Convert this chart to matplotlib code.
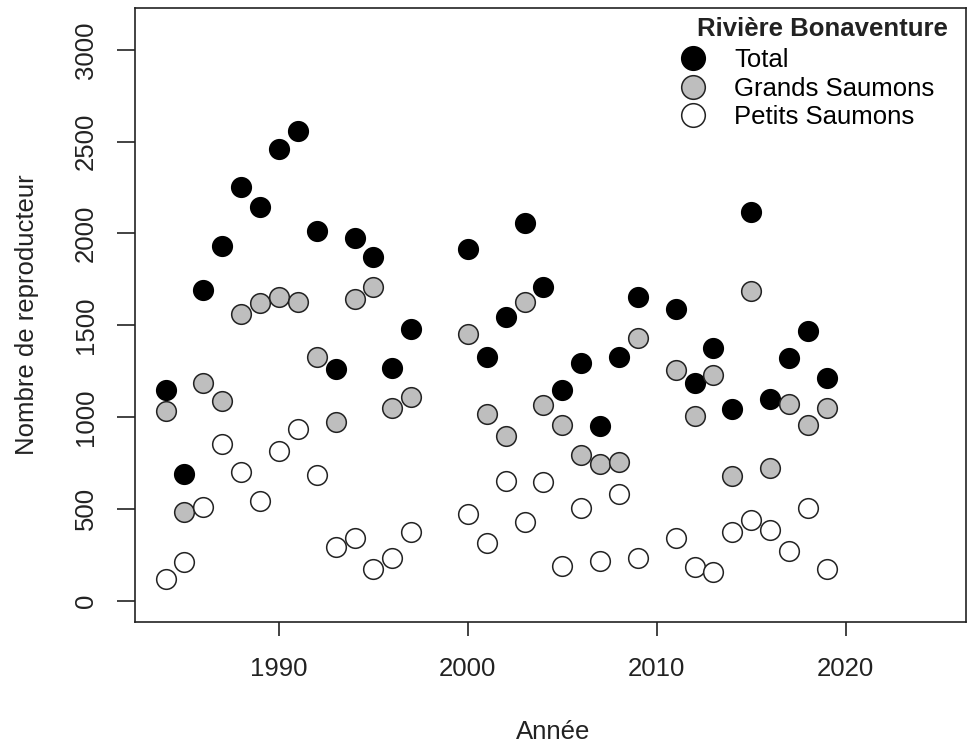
import matplotlib
matplotlib.use("Agg")
import matplotlib.pyplot as plt
from matplotlib.lines import Line2D

plt.rcParams['font.family'] = ['Liberation Sans', 'DejaVu Sans']

years = [1984, 1985, 1986, 1987, 1988, 1989, 1990, 1991, 1992, 1993, 1994,
         1995, 1996, 1997, 2000, 2001, 2002, 2003, 2004, 2005, 2006, 2007,
         2008, 2009, 2011, 2012, 2013, 2014, 2015, 2016, 2017, 2018, 2019]
total = [1148, 690, 1692, 1932, 2251, 2146, 2460, 2560, 2012, 1262, 1975,
         1870, 1269, 1478, 1916, 1326, 1547, 2055, 1710, 1148, 1293, 951,
         1329, 1656, 1589, 1183, 1378, 1043, 2115, 1096, 1322, 1467, 1215]
grands = [1033, 481, 1187, 1088, 1560, 1621, 1656, 1629, 1329, 972, 1643,
          1707, 1051, 1111, 1451, 1015, 899, 1629, 1066, 957, 794, 743,
          754, 1433, 1257, 1007, 1230, 680, 1685, 720, 1071, 957, 1049]
petits = [118, 209, 512, 852, 699, 543, 815, 935, 685, 294, 340,
          171, 231, 376, 471, 313, 652, 430, 648, 191, 503, 218,
          580, 231, 340, 185, 158, 375, 440, 386, 272, 505, 171]

series_labels = ["Total", "Grands Saumons", "Petits Saumons"]
legend_title = "Rivière Bonaventure"
xticks = [1990, 2000, 2010, 2020]
yticks = [0, 500, 1000, 1500, 2000, 2500, 3000]

W, H = 971, 752
fig = plt.figure(figsize=(W / 100, H / 100), dpi=100)
L, R, T, B = 135, 966, 8, 622
ax = fig.add_axes([L / W, 1 - B / H, (R - L) / W, (B - T) / H])

ms = 200
lw = 1.1
ax.scatter(years, total, s=ms, marker='o', facecolor='black', edgecolor='black', linewidths=lw, zorder=3)
ax.scatter(years, grands, s=ms, marker='o', facecolor='#bebebe', edgecolor='#222222', linewidths=lw, zorder=3)
ax.scatter(years, petits, s=ms, marker='o', facecolor='white', edgecolor='#222222', linewidths=lw, zorder=3)

ax.set_xlim(1982.38, 2026.37)
ax.set_ylim(-116, 3228)
ax.set_xticks(xticks)
ax.set_xticklabels([str(v) for v in xticks])
ax.set_yticks(yticks)
ax.set_yticklabels([str(v) for v in yticks], rotation=90, va='center')

for sp in ax.spines.values():
    sp.set_linewidth(1.2)
    sp.set_color('#222222')
ax.tick_params(axis='x', length=10, width=1.2, pad=15, labelsize=18.5, colors='#222222')
ax.tick_params(axis='y', length=13, width=1.2, pad=14, labelsize=18.5, colors='#222222')

fig.text(553 / W, 1 - 732 / H, "Année", ha='center', va='center', fontsize=18.5, color='#222222')
fig.text(27 / W, 1 - 315 / H, "Nombre de reproducteur", ha='center', va='center',
         rotation=90, fontsize=18.5, color='#222222')

handles = [
    Line2D([], [], linestyle='none', marker='o', markersize=17, markerfacecolor='black', markeredgecolor='black', markeredgewidth=lw),
    Line2D([], [], linestyle='none', marker='o', markersize=17, markerfacecolor='#bebebe', markeredgecolor='#222222', markeredgewidth=lw),
    Line2D([], [], linestyle='none', marker='o', markersize=17, markerfacecolor='white', markeredgecolor='#222222', markeredgewidth=lw),
]
leg = ax.legend(handles, series_labels, loc='upper left',
                bbox_to_anchor=(680 / W, 1 - 48 / H), bbox_transform=fig.transFigure,
                frameon=False, fontsize=18.5, handlelength=1.0, handletextpad=1.1,
                labelspacing=0.18, borderpad=0, borderaxespad=0)
fig.text(822 / W, 1 - 29 / H, legend_title, ha='center', va='center',
         fontsize=18.5, fontweight='bold', color='#222222')

fig.savefig("out.png", dpi=100)
